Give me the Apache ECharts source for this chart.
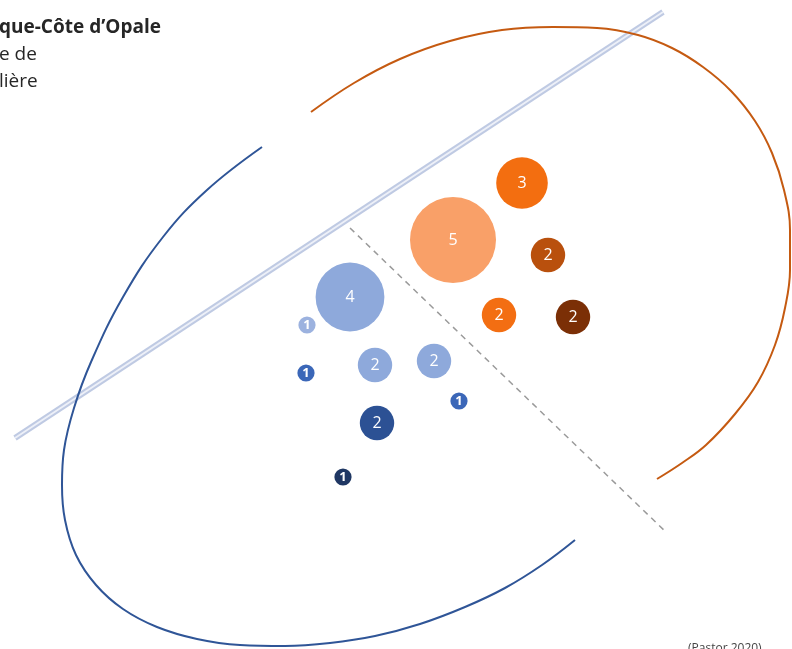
<!DOCTYPE html>
<html>
<head>
<meta charset="utf-8">
<script src="https://cdn.jsdelivr.net/npm/echarts@6/dist/echarts.min.js"></script>
<style>html,body{margin:0;padding:0;background:#fff;}#c{width:792px;height:649px;}</style>
</head>
<body>
<div id="c"></div>
<script>
// Bubble data (x, y in the diagram's coordinate plane; value = count shown in bubble)
var bubbleX     = [522, 453, 548, 499, 573, 350, 307, 375, 434, 306, 459, 377, 343];
var bubbleY     = [183, 240, 255, 315, 317, 297, 325, 365, 361, 373, 401, 423, 477];
var bubbleValue = [3,   5,   2,   2,   2,   4,   1,   2,   2,   1,   1,   2,   1];
var bubbleColor = ['#F36E10','#F9A068','#B9500D','#F36E12','#7B2F06','#8EA9DB','#9CB2DF','#8EA9DB','#8EA9DB','#3B67B8','#3B67B8','#2C5194','#1F3763'];

// Decorative guide lines
var separatorX = [15, 663];
var separatorY = [438, 12];
var dashedX = [350, 667];
var dashedY = [228, 533];
var orangeArcX = [311, 354, 400, 450, 502, 553, 597, 638, 672, 703, 731, 755, 772, 784, 790, 790, 785, 775, 758, 735, 706, 682, 657];
var orangeArcY = [112, 83,  59,  41,  30,  27,  28,  35,  48,  67,  91,  121, 153, 190, 230, 270, 308, 345, 382, 414, 445, 463, 479];
var blueArcX = [262, 207, 163, 123, 91,  74,  64,  62,  65,  76,  96,  123, 157, 197, 240, 285, 330, 375, 420, 465, 505, 542, 575];
var blueArcY = [147, 190, 237, 297, 362, 408, 450, 485, 520, 555, 585, 609, 627, 639, 645, 646, 643, 636, 624, 607, 588, 565, 540];

function zip(a, b) { return a.map(function (v, i) { return [v, b[i]]; }); }

var bubbles = bubbleX.map(function (x, i) {
  return {
    value: [x, bubbleY[i], bubbleValue[i]],
    itemStyle: { color: bubbleColor[i], opacity: 1 },
    label: bubbleValue[i] === 1 ? { fontSize: 13, fontWeight: 'bold' } : {}
  };
});

var chart = echarts.init(document.getElementById('c'));
chart.setOption({
  animation: false,
  grid: { left: 0, right: 0, top: 0, bottom: 0 },
  xAxis: { type: 'value', min: 0, max: 792, show: false },
  yAxis: { type: 'value', min: 0, max: 649, inverse: true, show: false },
  graphic: [
    { type: 'text', left: -1, top: 18, style: { text: 'que-Côte d\u2019Opale', font: 'bold 19px "Open Sans"', fill: '#262626' } },
    { type: 'text', left: -1, top: 45, style: { text: 'e de', font: '19px "Open Sans"', fill: '#262626' } },
    { type: 'text', left: -1, top: 72, style: { text: 'lière', font: '19px "Open Sans"', fill: '#262626' } },
    { type: 'text', left: 688, top: 643, style: { text: '(Pastor 2020)', font: '12px "Open Sans"', fill: '#444' } }
  ],
  series: [
    { type: 'line', data: zip(separatorX, separatorY), symbol: 'none', silent: true,
      lineStyle: { color: '#BFCAE3', width: 6 } },
    { type: 'line', data: zip(separatorX, separatorY), symbol: 'none', silent: true,
      lineStyle: { color: '#EDF0F8', width: 2 } },
    { type: 'line', data: zip(dashedX, dashedY), symbol: 'none', silent: true,
      lineStyle: { color: '#9A9A9A', width: 1.5, type: [6, 5] } },
    { type: 'line', data: zip(orangeArcX, orangeArcY), symbol: 'none', smooth: 0.4, silent: true,
      lineStyle: { color: '#C55A11', width: 2 } },
    { type: 'line', data: zip(blueArcX, blueArcY), symbol: 'none', smooth: 0.4, silent: true,
      lineStyle: { color: '#2F5597', width: 2 } },
    { type: 'scatter', data: bubbles,
      symbolSize: function (v) { return v[2] * 17.2; },
      label: { show: true, position: 'inside', color: '#fff', fontSize: 16, fontFamily: 'Open Sans',
        formatter: function (p) { return p.value[2]; } } }
  ]
});
</script>
</body>
</html>
